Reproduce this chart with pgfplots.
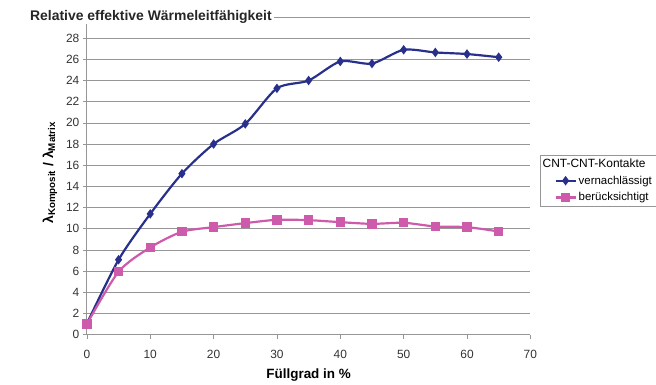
\documentclass[border=0pt]{standalone}
\usepackage{fontspec}
\setmainfont{Liberation Sans}
\usepackage{pgfplots}
\pgfplotsset{compat=1.18}
\definecolor{cblue}{RGB}{40,48,140}
\definecolor{cpink}{RGB}{205,90,170}
\definecolor{cgrid}{RGB}{150,150,150}
\begin{document}
\begin{tikzpicture}
\path (0,0) rectangle (656bp,380bp);
\begin{axis}[
  at={(87bp,45bp)}, anchor=south west,
  scale only axis, width=444bp, height=318bp,
  xmin=0, xmax=70, ymin=0, ymax=30,
  xtick={0,10,...,70}, ytick={0,2,...,30},
  yticklabels={0,2,4,6,8,10,12,14,16,18,20,22,24,26,28,},
  axis x line*=bottom, axis y line*=left,
  ymajorgrids, grid style={cgrid, line width=0.6pt},
  tick style={cgrid, line width=0.6pt}, tick align=outside, major tick length=4bp,
  axis line style={cgrid, line width=0.8pt},
  /pgf/number format/assume math mode=true,
  ticklabel style={font=\fontsize{12}{14}\selectfont, text=black!80},
  xticklabel style={yshift=-8bp},
  xlabel={Füllgrad in \%},
  xlabel style={font=\bfseries\fontsize{13.5}{15}\selectfont, yshift=-3bp},
  ylabel={λ\textsubscript{Komposit} / λ\textsubscript{Matrix}},
  ylabel style={font=\bfseries\fontsize{14}{16}\selectfont, yshift=2bp, xshift=3bp},
  legend style={at={(1.0225,0.567)}, anchor=north west, draw=cgrid,
    font=\fontsize{11.5}{13}\selectfont, row sep=3bp, inner xsep=2bp, inner ysep=2bp},
  legend cell align=left,
  legend image code/.code={%
    \path (0bp,0bp);
    \draw[mark repeat=2,mark phase=2] plot coordinates {(12bp,0bp) (22bp,0bp) (32bp,0bp)};},
]
\addlegendimage{empty legend}
\addlegendentry{\hspace{-36bp}\fontsize{12}{14}\selectfont CNT-CNT-Kontakte}
\addplot[cblue, line width=2.2pt, smooth, tension=0.45, mark=diamond*, mark size=3pt, mark options={solid}]
coordinates {(0,1.04) (5,7.07) (10,11.4) (15,15.2) (20,18.0) (25,19.9) (30,23.26) (35,24.0) (40,25.8) (45,25.6) (50,26.9) (55,26.65) (60,26.5) (65,26.2)};
\addlegendentry{vernachlässigt}
\addplot[cpink, line width=2.2pt, smooth, tension=0.45, mark=square*, mark size=3.6pt, mark options={solid}]
coordinates {(0,1.0) (5,5.94) (10,8.23) (15,9.71) (20,10.15) (25,10.53) (30,10.84) (35,10.81) (40,10.62) (45,10.46) (50,10.56) (55,10.21) (60,10.15) (65,9.74)};
\addlegendentry{berücksichtigt}
\end{axis}
\node[anchor=west, fill=white, font=\bfseries\fontsize{14}{16}\selectfont, inner xsep=2bp, inner ysep=1bp, text=black!85] at (28bp,363bp) {Relative effektive Wärmeleitfähigkeit};
\end{tikzpicture}
\end{document}
